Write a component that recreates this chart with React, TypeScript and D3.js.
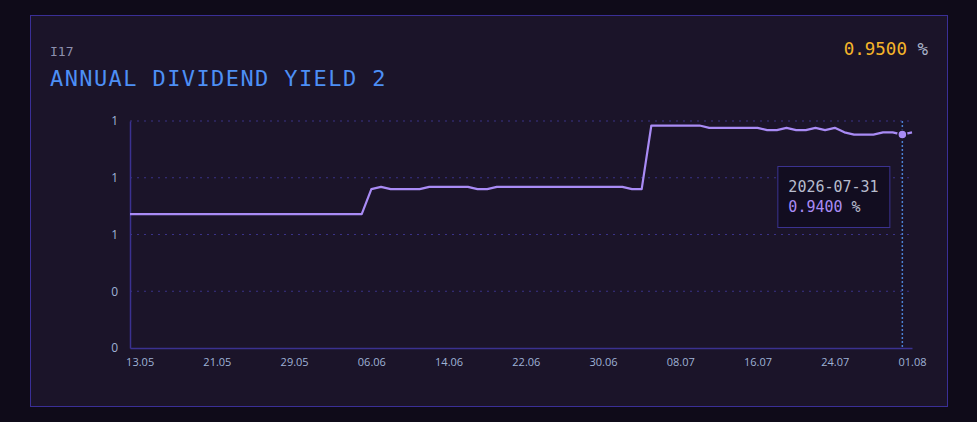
import * as d3 from "d3";
import { useEffect, useRef } from "react";

const startDate = new Date(2026, 4, 12);
const yieldValues = [
  // 12.05 - 05.06
  0.59, 0.59, 0.59, 0.59, 0.59, 0.59, 0.59, 0.59, 0.59, 0.59,
  0.59, 0.59, 0.59, 0.59, 0.59, 0.59, 0.59, 0.59, 0.59, 0.59,
  0.59, 0.59, 0.59, 0.59, 0.59,
  // 06.06 - 04.07
  0.7, 0.71, 0.7, 0.7, 0.7, 0.7, 0.71, 0.71, 0.71, 0.71, 0.71,
  0.7, 0.7, 0.71, 0.71, 0.71, 0.71, 0.71, 0.71, 0.71, 0.71, 0.71,
  0.71, 0.71, 0.71, 0.71, 0.71, 0.7, 0.7,
  // 05.07 - 01.08
  0.98, 0.98, 0.98, 0.98, 0.98, 0.98, 0.97, 0.97, 0.97, 0.97, 0.97, 0.97,
  0.96, 0.96, 0.97, 0.96, 0.96, 0.97, 0.96, 0.97, 0.95, 0.94, 0.94, 0.94,
  0.95, 0.95, 0.94, 0.95,
];
const yTicks = [0, 0.25, 0.5, 0.75, 1];
const xTickLabels = ["13.05", "21.05", "29.05", "06.06", "14.06", "22.06", "30.06", "08.07", "16.07", "24.07", "01.08"];
const hoverIndex = 80;

const title = "ANNUAL DIVIDEND YIELD 2";
const code = "I17";

type Point = { date: Date; value: number };

export default function App(): JSX.Element {
  const svgRef = useRef<SVGSVGElement>(null);

  useEffect(() => {
    if (!svgRef.current) return;

    const data: Point[] = yieldValues.map((v, i) => ({ date: d3.timeDay.offset(startDate, i), value: v }));
    const width = 977;
    const height = 422;
    const margin = { top: 121, right: 65, bottom: 74, left: 130 };
    const mono = "'DejaVu Sans Mono', monospace";
    const sans = "'Open Sans', 'Noto Sans', sans-serif";

    const svg = d3.select(svgRef.current);
    svg.selectAll("*").remove();
    svg.attr("width", width).attr("height", height);

    svg.append("rect").attr("width", width).attr("height", height).attr("fill", "#0f0b19");
    svg
      .append("rect")
      .attr("x", 30.5)
      .attr("y", 15.5)
      .attr("width", 917)
      .attr("height", 391)
      .attr("fill", "#1b1429")
      .attr("stroke", "#3a2f96")
      .attr("stroke-width", 1);

    svg
      .append("text")
      .attr("x", 50)
      .attr("y", 55.5)
      .attr("font-family", mono)
      .attr("font-size", 13)
      .attr("fill", "#8d8fae")
      .text(code);

    svg
      .append("text")
      .attr("x", 50)
      .attr("y", 86)
      .attr("font-family", mono)
      .attr("font-size", 22)
      .attr("letter-spacing", 1.4)
      .attr("fill", "#4d8ff5")
      .text(title);

    const last = data[data.length - 1];
    const head = svg
      .append("text")
      .attr("x", 928)
      .attr("y", 55)
      .attr("text-anchor", "end")
      .attr("font-family", mono)
      .attr("font-size", 17.5);
    head.append("tspan").attr("fill", "#f5b52a").text(last.value.toFixed(4));
    head.append("tspan").attr("fill", "#a9b3c9").text(" %");

    const x = d3
      .scaleTime()
      .domain([data[0].date, last.date])
      .range([margin.left, width - margin.right]);
    const y = d3
      .scaleLinear()
      .domain([0, 1])
      .range([height - margin.bottom, margin.top]);

    svg
      .append("g")
      .selectAll("line")
      .data(yTicks.filter((t) => t > 0))
      .join("line")
      .attr("x1", margin.left)
      .attr("x2", width - margin.right + 1)
      .attr("y1", (d) => y(d))
      .attr("y2", (d) => y(d))
      .attr("stroke", "#3a3288")
      .attr("stroke-width", 1.2)
      .attr("stroke-dasharray", "2,5");

    const fmt = d3.format(".0f");
    svg
      .append("g")
      .attr("transform", `translate(${margin.left},0)`)
      .call(d3.axisLeft(y).tickValues(yTicks).tickSize(0).tickPadding(12).tickFormat((d) => fmt(Number(d))))
      .call((g) => g.select(".domain").attr("stroke", "#3b3190").attr("stroke-width", 1.5))
      .selectAll("text")
      .style("font-family", sans)
      .style("font-size", "12px")
      .style("fill", "#9fb2d6");

    const xTicks = xTickLabels.map((l) => {
      const [dd, mm] = l.split(".").map(Number);
      return new Date(2026, mm - 1, dd);
    });
    svg
      .append("g")
      .attr("transform", `translate(0,${height - margin.bottom})`)
      .call(d3.axisBottom(x).tickValues(xTicks).tickSize(0).tickPadding(10).tickFormat(d3.timeFormat("%d.%m") as any))
      .call((g) => g.select(".domain").attr("stroke", "#3b3190").attr("stroke-width", 1.5))
      .selectAll("text")
      .style("font-family", sans)
      .style("font-size", "11px")
      .style("fill", "#9fb2d6");

    const lineGen = d3
      .line<Point>()
      .x((d) => x(d.date))
      .y((d) => y(d.value));

    svg
      .append("path")
      .datum(data)
      .attr("d", lineGen)
      .attr("fill", "none")
      .attr("stroke", "#a98bf5")
      .attr("stroke-width", 2.2)
      .attr("stroke-linejoin", "round");

    const hp = data[hoverIndex];
    svg
      .append("line")
      .attr("x1", x(hp.date))
      .attr("x2", x(hp.date))
      .attr("y1", margin.top)
      .attr("y2", height - margin.bottom)
      .attr("stroke", "#4b82d4")
      .attr("stroke-width", 1.5)
      .attr("stroke-dasharray", "2,2");

    svg
      .append("circle")
      .attr("cx", x(hp.date))
      .attr("cy", y(hp.value))
      .attr("r", 4.5)
      .attr("fill", "#a98bf5")
      .attr("stroke", "#1b1429")
      .attr("stroke-width", 1.5);

    const tip = svg.append("g").attr("transform", `translate(${x(hp.date) - 125},166)`);
    tip
      .append("rect")
      .attr("x", 0.5)
      .attr("y", 0.5)
      .attr("width", 112)
      .attr("height", 61)
      .attr("fill", "#120d20")
      .attr("stroke", "#3b3290");
    tip
      .append("text")
      .attr("x", 11)
      .attr("y", 26)
      .attr("font-family", mono)
      .attr("font-size", 15)
      .attr("fill", "#b7bccd")
      .text(d3.timeFormat("%Y-%m-%d")(hp.date));
    const tv = tip.append("text").attr("x", 11).attr("y", 46).attr("font-family", mono).attr("font-size", 15);
    tv.append("tspan").attr("fill", "#a98bf5").text(hp.value.toFixed(4));
    tv.append("tspan").attr("fill", "#b7bccd").text(" %");
  }, []);

  return (
    <div style={{ position: "fixed", left: 0, top: 0 }}>
      <svg ref={svgRef} style={{ display: "block" }} />
    </div>
  );
}
